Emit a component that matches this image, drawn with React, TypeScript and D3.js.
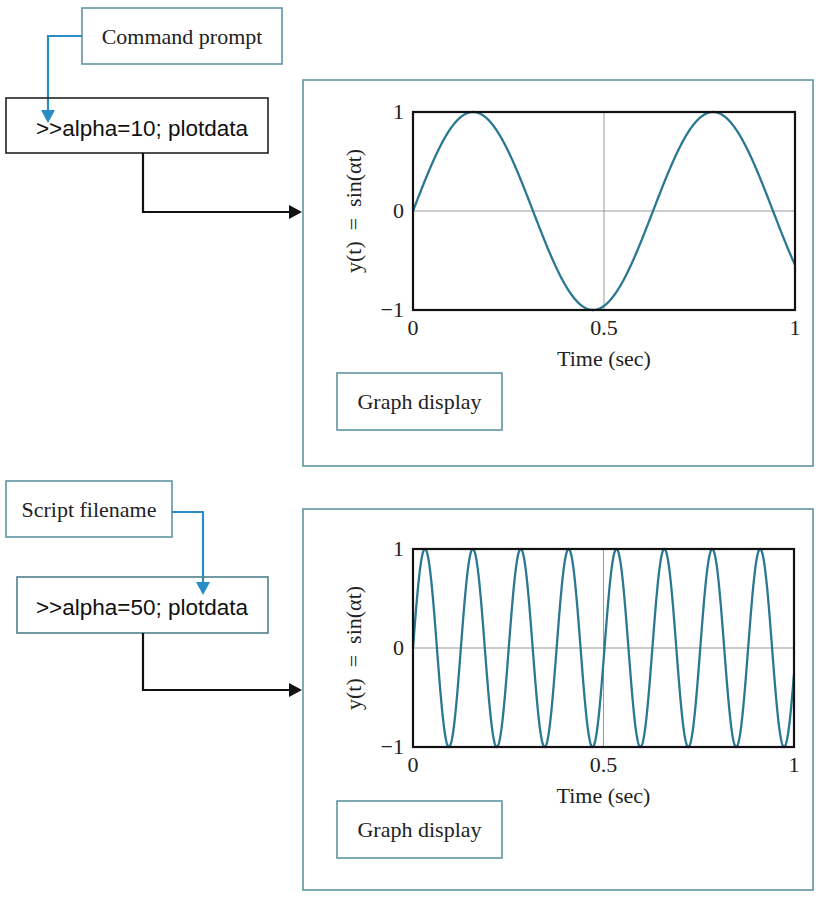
import React from "react";
import * as d3 from "d3";

// ---- data ----
const alphaValues = [10, 50];
const commandTexts = [">>alpha=10; plotdata", ">>alpha=50; plotdata"];
const sourceLabels = ["Command prompt", "Script filename"];
const xTickValues = [0, 0.5, 1];
const xTickLabels = ["0", "0.5", "1"];
const yTickValues = [1, 0, -1];
const yTickLabels = ["1", "0", "\u22121"];
const xAxisTitle = "Time (sec)";
const yAxisTitle = "y(t) = sin(\u03b1t)";
const panelLabel = "Graph display";
const tDomain = [0, 1];
const yDomain = [-1, 1];

// ---- layout ----
const layouts = [
  {
    src: { x: 82, y: 8, w: 200, h: 56 },
    cmd: { x: 6, y: 98, w: 262, h: 55 },
    blue: [[82, 36], [48, 36], [48, 111]],
    blueTip: [48, 123],
    black: [[143, 153], [143, 212], [290, 212]],
    blackTip: [302, 212],
    panel: { x: 303, y: 80, w: 510, h: 386 },
    plot: { x: 413, y: 112, w: 382, h: 198 },
    gd: { x: 337, y: 373, w: 165, h: 57 },
  },
  {
    src: { x: 6, y: 481, w: 166, h: 56 },
    cmd: { x: 17, y: 577, w: 251, h: 56 },
    blue: [[172, 512], [203, 512], [203, 583]],
    blueTip: [203, 595],
    black: [[143, 633], [143, 690], [290, 690]],
    blackTip: [302, 690],
    panel: { x: 303, y: 509, w: 510, h: 381 },
    plot: { x: 413, y: 549, w: 381, h: 198 },
    gd: { x: 337, y: 801, w: 165, h: 57 },
  },
];

const SERIF = "'Liberation Serif', 'Times New Roman', serif";
const SANS = "'Liberation Sans', Arial, sans-serif";
const TEAL_BORDER = "#5f95a3";
const BLUE = "#2a8cc4";
const CURVE = "#2a7892";
const FS = 22;

function Section({ i }: { i: number }) {
  const L = layouts[i];
  const alpha = alphaValues[i];
  const x = d3.scaleLinear().domain(tDomain).range([L.plot.x, L.plot.x + L.plot.w]);
  const y = d3.scaleLinear().domain(yDomain).range([L.plot.y + L.plot.h, L.plot.y]);
  const ts = d3.range(0, 1.0001, 0.001);
  const pts = ts.map((t) => [t, Math.sin(alpha * t)] as [number, number]);
  const line = d3
    .line<[number, number]>()
    .x((d) => x(d[0]))
    .y((d) => y(d[1]))
    .curve(d3.curveLinear);
  const pathLine = d3.line();
  const [bx, by] = L.blueTip;
  const [kx, ky] = L.blackTip;
  const plotBottom = L.plot.y + L.plot.h;
  const yMid = L.plot.y + L.plot.h / 2;
  return (
    <g>
      {/* source box */}
      <rect x={L.src.x} y={L.src.y} width={L.src.w} height={L.src.h} fill="#fff" stroke={TEAL_BORDER} strokeWidth={1.6} />
      <text x={L.src.x + L.src.w / 2} y={L.src.y + L.src.h / 2 + 7.5} textAnchor="middle" fontFamily={SERIF} fontSize={FS} fill="#222">
        {sourceLabels[i]}
      </text>
      {/* blue connector */}
      <path d={pathLine(L.blue as [number, number][]) || ""} fill="none" stroke={BLUE} strokeWidth={2.2} />
      <path d={`M${bx - 7},${by - 13}L${bx + 7},${by - 13}L${bx},${by}Z`} fill={BLUE} />
      {/* command box */}
      <rect x={L.cmd.x} y={L.cmd.y} width={L.cmd.w} height={L.cmd.h} fill="none" stroke={i === 0 ? "#222" : "#4f7f8a"} strokeWidth={1.6} />
      <text x={142} y={L.cmd.y + 38} textAnchor="middle" fontFamily={SANS} fontSize={22.5} fill="#111">
        {commandTexts[i]}
      </text>
      {/* black connector */}
      <path d={pathLine(L.black as [number, number][]) || ""} fill="none" stroke="#111" strokeWidth={2.2} />
      <path d={`M${kx - 13},${ky - 7}L${kx - 13},${ky + 7}L${kx},${ky}Z`} fill="#111" />
      {/* panel */}
      <rect x={L.panel.x} y={L.panel.y} width={L.panel.w} height={L.panel.h} fill="none" stroke={TEAL_BORDER} strokeWidth={1.6} />
      {/* grid */}
      <line x1={x(0.5)} x2={x(0.5)} y1={L.plot.y} y2={plotBottom} stroke="#999" strokeWidth={1} />
      <line x1={L.plot.x} x2={L.plot.x + L.plot.w} y1={y(0)} y2={y(0)} stroke="#999" strokeWidth={1} />
      {/* curve */}
      <path d={line(pts) || ""} fill="none" stroke={CURVE} strokeWidth={2.3} />
      {/* frame */}
      <rect x={L.plot.x} y={L.plot.y} width={L.plot.w} height={L.plot.h} fill="none" stroke="#111" strokeWidth={2.2} />
      {/* ticks */}
      {xTickValues.map((v, k) => (
        <text key={"x" + k} x={x(v)} y={plotBottom + 25} textAnchor="middle" fontFamily={SERIF} fontSize={FS} fill="#222">
          {xTickLabels[k]}
        </text>
      ))}
      {yTickValues.map((v, k) => (
        <text key={"y" + k} x={L.plot.x - 9} y={y(v) + 7} textAnchor="end" fontFamily={SERIF} fontSize={FS} fill="#222">
          {yTickLabels[k]}
        </text>
      ))}
      <text x={x(0.5)} y={plotBottom + 56} textAnchor="middle" fontFamily={SERIF} fontSize={FS} fill="#222">
        {xAxisTitle}
      </text>
      <text
        transform={`translate(${L.plot.x - 60},${yMid}) rotate(-90)`}
        textAnchor="middle"
        dominantBaseline="central"
        fontFamily={SERIF}
        fontSize={FS}
        fill="#222"
        style={{ whiteSpace: "pre" }}
      >
        {yAxisTitle.replace(" = ", "  =  ")}
      </text>
      {/* graph display box */}
      <rect x={L.gd.x} y={L.gd.y} width={L.gd.w} height={L.gd.h} fill="none" stroke={TEAL_BORDER} strokeWidth={1.6} />
      <text x={L.gd.x + L.gd.w / 2} y={L.gd.y + L.gd.h / 2 + 7} textAnchor="middle" fontFamily={SERIF} fontSize={FS} fill="#222">
        {panelLabel}
      </text>
    </g>
  );
}

export default function App() {
  return (
    <svg
      width={820}
      height={897}
      viewBox="0 0 820 897"
      style={{ position: "absolute", left: 0, top: 0, background: "#fff" }}
    >
      <rect x={0} y={0} width={820} height={897} fill="#fff" />
      {alphaValues.map((_, i) => (
        <Section key={i} i={i} />
      ))}
    </svg>
  );
}
